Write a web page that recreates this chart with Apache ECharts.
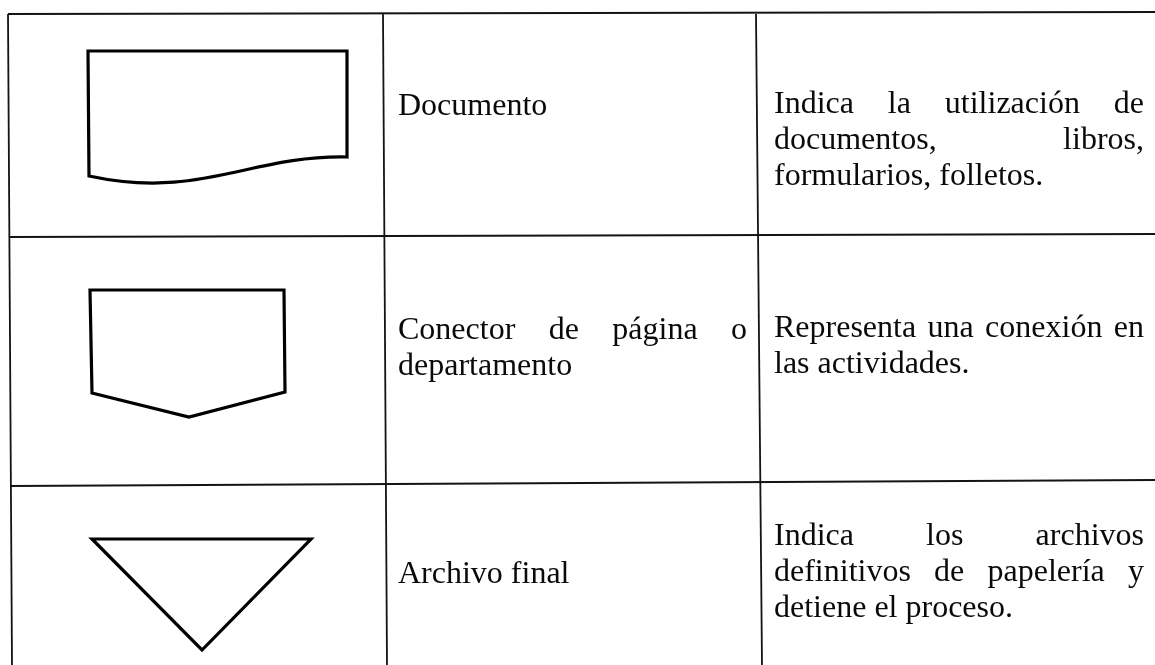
<!DOCTYPE html>
<html>
<head>
<meta charset="utf-8">
<script src="https://cdn.jsdelivr.net/npm/echarts@6/dist/echarts.min.js"></script>
<style>
html,body{margin:0;padding:0;background:#fff;}
#chart{width:1155px;height:665px;}
</style>
</head>
<body>
<div id="chart"></div>
<script>
// ---- content ----
const symbolNames = [
  ['Documento'],
  ['Conector de página o', 'departamento'],
  ['Archivo final']
];
const descriptions = [
  ['Indica la utilización de', 'documentos, libros,', 'formularios, folletos.'],
  ['Representa una conexión en', 'las actividades.'],
  ['Indica los archivos', 'definitivos de papelería y', 'detiene el proceso.']
];
const symbolKinds = ['document', 'offpage', 'triangle'];

// ---- layout (pixel space of the 1155 x 665 page) ----
const tableLines = [
  [8, 14, 1155, 12],
  [9, 237, 1155, 234],
  [11, 486, 1155, 480],
  [8, 14, 12, 665],
  [383, 14, 387, 665],
  [756, 14, 762, 665]
];
const shapeGeometry = {
  document: {pts: [[89, 176], [88, 51], [347, 51], [347, 157]], curve: [[250, 155], [200, 200], [89, 176]]},
  offpage: {pts: [[90, 290], [284, 290], [285, 392], [189, 417], [92, 393]]},
  triangle: {pts: [[92, 539], [311, 539], [202, 650]]}
};
const nameBox = {left: 398, right: 747, baseline: [117, 341, 585]};
const descBox = {left: 774, right: 1144, baseline: [115, 339, 547]};
const lineGap = 36;
const fontSize = 32;
const fontFamily = 'Liberation Serif';

// ---- justified word placement ----
const ctx = document.createElement('canvas').getContext('2d');
ctx.font = fontSize + 'px "' + fontFamily + '"';
const words = [];
const wordItems = [];
function placeParagraph(lines, left, right, baseline) {
  lines.forEach(function (line, li) {
    const y = baseline + li * lineGap - 10;
    const parts = line.split(' ');
    const last = li === lines.length - 1;
    if (last || parts.length === 1) {
      words.push(line);
      wordItems.push([left, y, words.length - 1]);
      return;
    }
    const widths = parts.map(function (p) { return ctx.measureText(p).width; });
    const total = widths.reduce(function (a, b) { return a + b; }, 0);
    const gap = (right - left - total) / (parts.length - 1);
    let x = left;
    parts.forEach(function (p, i) {
      words.push(p);
      wordItems.push([x, y, words.length - 1]);
      x += widths[i] + gap;
    });
  });
}
symbolNames.forEach(function (l, i) { placeParagraph(l, nameBox.left, nameBox.right, nameBox.baseline[i]); });
descriptions.forEach(function (l, i) { placeParagraph(l, descBox.left, descBox.right, descBox.baseline[i]); });

const chart = echarts.init(document.getElementById('chart'));
chart.setOption({
  animation: false,
  backgroundColor: '#ffffff',
  grid: {left: 0, right: 0, top: 0, bottom: 0},
  xAxis: {type: 'value', min: 0, max: 1155, show: false},
  yAxis: {type: 'value', min: 0, max: 665, inverse: true, show: false},
  series: [
    {
      type: 'custom',
      clip: false,
      data: tableLines,
      encode: {x: [0, 2], y: [1, 3]},
      renderItem: function (params, api) {
        const a = api.coord([api.value(0), api.value(1)]);
        const b = api.coord([api.value(2), api.value(3)]);
        return {type: 'line', shape: {x1: a[0], y1: a[1], x2: b[0], y2: b[1]},
          style: {stroke: '#141414', lineWidth: 1.8}};
      }
    },
    {
      type: 'custom',
      clip: false,
      data: symbolKinds.map(function (k, i) { return [i, i]; }),
      renderItem: function (params, api) {
        const g = shapeGeometry[symbolKinds[api.value(0)]];
        const pts = g.pts.map(function (p) { return api.coord(p); });
        const style = {stroke: '#000', lineWidth: 3.2, fill: '#fff', lineJoin: 'miter'};
        if (g.curve) {
          const c = g.curve.map(function (p) { return api.coord(p); });
          let d = 'M' + pts[0][0] + ' ' + pts[0][1];
          for (let i = 1; i < pts.length; i++) d += ' L' + pts[i][0] + ' ' + pts[i][1];
          d += ' C' + c[0][0] + ' ' + c[0][1] + ' ' + c[1][0] + ' ' + c[1][1] + ' ' + c[2][0] + ' ' + c[2][1] + ' Z';
          return {type: 'path', shape: {pathData: d}, style: style};
        }
        return {type: 'polygon', shape: {points: pts}, style: style};
      }
    },
    {
      type: 'custom',
      clip: false,
      data: wordItems,
      renderItem: function (params, api) {
        const p = api.coord([api.value(0), api.value(1)]);
        return {type: 'text', x: p[0], y: p[1],
          style: {text: words[api.value(2)], fontFamily: fontFamily, fontSize: fontSize,
            fill: '#0a0a0a', align: 'left', verticalAlign: 'middle'}};
      }
    }
  ]
});
</script>
</body>
</html>
